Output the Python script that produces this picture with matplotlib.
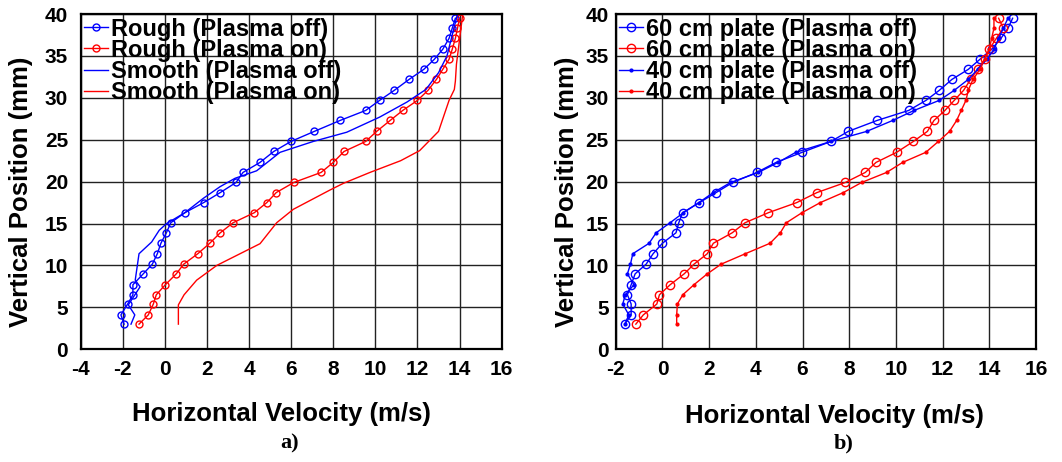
import numpy as np
import matplotlib
matplotlib.use("Agg")
import matplotlib.pyplot as plt

# ---- panel a) data (vertical position in mm, velocity in m/s)
rough_off_y = [3.0, 4.1, 5.4, 6.5, 7.7, 9.0, 10.15, 11.4, 12.65, 13.9, 15.1, 16.3, 17.5, 18.7, 19.9, 21.1,
               22.3, 23.6, 24.8, 26.0, 27.3, 28.5, 29.7, 30.9, 32.2, 33.4, 34.6, 35.8, 37.1, 38.3, 39.5]
rough_off_v = [-1.94, -2.09, -1.77, -1.52, -1.52, -1.03, -0.6, -0.36, -0.19, 0.07, 0.28, 0.95, 1.84, 2.63, 3.38, 3.71,
               4.52, 5.17, 5.99, 7.1, 8.32, 9.54, 10.2, 10.9, 11.6, 12.3, 12.8, 13.2, 13.5, 13.65, 13.8]
rough_on_y = rough_off_y
rough_on_v = [-1.23, -0.79, -0.55, -0.41, 0.02, 0.54, 0.89, 1.56, 2.13, 2.63, 3.24, 4.25, 4.84, 5.29, 6.12, 7.42,
              8.0, 8.51, 9.54, 10.06, 10.7, 11.3, 12.0, 12.5, 12.9, 13.2, 13.5, 13.65, 13.8, 13.9, 14.0]
smooth_off_y = [3.0, 4.1, 5.3, 7.45, 8.25, 11.4, 12.8, 14.2, 15.0, 16.3, 18.0, 19.4, 20.4, 21.3, 23.5, 24.8,
                25.9, 27.7, 29.5, 31.0, 33.0, 35.0, 37.0, 39.0, 40.0]
smooth_off_v = [-1.61, -1.43, -1.74, -1.18, -1.41, -1.23, -0.63, -0.27, 0.08, 0.95, 1.82, 2.62, 3.33, 4.36, 5.47, 7.05,
                8.64, 10.2, 11.5, 12.4, 13.0, 13.4, 13.6, 13.8, 13.9]
smooth_on_y = [3.0, 5.3, 6.5, 8.25, 10.0, 12.6, 15.1, 16.7, 19.0, 19.8, 21.1, 22.5, 23.7, 26.0, 29.7, 31.0,
               32.0, 34.0, 36.0, 38.0, 40.0]
smooth_on_v = [0.64, 0.64, 0.91, 1.51, 2.46, 4.52, 5.31, 6.1, 7.84, 8.48, 9.74, 11.2, 12.1, 13.0, 13.5, 13.75,
               13.8, 13.85, 13.95, 14.05, 14.15]

# ---- panel b) data
plate_y = [3.0, 4.1, 5.4, 6.5, 7.7, 9.0, 10.15, 11.4, 12.65, 13.9, 15.1, 16.3, 17.5, 18.7, 19.9, 21.1,
           22.3, 23.5, 24.8, 26.0, 27.3, 28.5, 29.7, 30.9, 32.2, 33.4, 34.6, 35.8, 37.1, 38.3, 39.5]
p60_off_v = [-1.61, -1.34, -1.34, -1.5, -1.34, -1.17, -0.7, -0.4, 0.0, 0.58, 0.7, 0.87, 1.58, 2.3, 3.01, 4.04,
             4.87, 5.98, 7.22, 7.96, 9.19, 10.55, 11.29, 11.86, 12.4, 13.1, 13.6, 14.1, 14.5, 14.8, 15.0]
p60_on_v = [-1.14, -0.82, -0.24, -0.13, 0.33, 0.93, 1.35, 1.92, 2.18, 2.99, 3.54, 4.54, 5.75, 6.62, 7.83, 8.69,
            9.15, 10.03, 10.75, 11.35, 11.63, 12.1, 12.5, 12.9, 13.2, 13.5, 13.8, 14.0, 14.3, 14.6, 14.4]
p40_off_v = [-1.61, -1.44, -1.7, -1.59, -1.22, -1.5, -1.37, -1.27, -0.57, -0.27, 0.33, 0.9, 1.56, 2.18, 2.92, 4.11,
             4.96, 5.71, 7.22, 8.75, 9.86, 10.78, 11.86, 12.5, 13.1, 13.5, 13.9, 14.2, 14.4, 14.6, 14.8]
p40_on_v = [0.61, 0.61, 0.64, 0.87, 1.35, 1.92, 2.51, 3.55, 4.61, 5.05, 5.31, 5.98, 6.76, 7.75, 8.53, 9.6,
            10.29, 11.28, 11.82, 12.3, 12.6, 12.8, 13.0, 13.1, 13.3, 13.6, 13.8, 14.0, 14.1, 14.2, 14.2]

plt.rcParams['font.family'] = ['Liberation Sans', 'DejaVu Sans']
plt.rcParams['font.weight'] = 'bold'
plt.rcParams['axes.unicode_minus'] = False

fig = plt.figure(figsize=(10.62, 4.62), dpi=100)
ax1 = fig.add_axes([0.076, 0.244, 0.3964, 0.7256])
ax2 = fig.add_axes([0.5798, 0.244, 0.3957, 0.7256])


def style(ax, xmin, xmax, ypad):
    ax.set_xlim(xmin, xmax)
    ax.set_ylim(0, 40)
    ax.set_xticks(np.arange(xmin, xmax + 1, 2))
    ax.set_yticks(np.arange(0, 41, 5))
    ax.grid(True, color='#222222', linewidth=1.0)
    ax.set_axisbelow(True)
    ax.tick_params(axis='x', length=0, labelsize=15, pad=8)
    ax.tick_params(axis='y', length=0, labelsize=15, pad=ypad)
    for lab in ax.get_xticklabels() + ax.get_yticklabels():
        lab.set_fontweight('bold')
    for s in ax.spines.values():
        s.set_linewidth(1.6)
    ax.set_xlabel('Horizontal Velocity (m/s)', fontsize=18.5, fontweight='bold')
    ax.set_ylabel('Vertical Position (mm)', fontsize=18.5, fontweight='bold')


style(ax1, -4, 16, 9)
ax1.plot(rough_off_v, rough_off_y, '-o', color='#0000ff', lw=1.0, ms=5, mfc='none', mew=1.0,
         label='Rough (Plasma off)')
ax1.plot(rough_on_v, rough_on_y, '-o', color='#ff0000', lw=1.0, ms=5, mfc='none', mew=1.0,
         label='Rough (Plasma on)')
ax1.plot(smooth_off_v, smooth_off_y, '-', color='#0000ff', lw=1.0, label='Smooth (Plasma off)')
ax1.plot(smooth_on_v, smooth_on_y, '-', color='#ff0000', lw=1.0, label='Smooth (Plasma on)')
ax1.xaxis.set_label_coords(0.477, -0.157)
ax1.yaxis.set_label_coords(-0.113, 0.47)

style(ax2, -2, 16, 5)
ax2.plot(p60_off_v, plate_y, '-o', color='#0000ff', lw=1.0, ms=6, mfc='none', mew=1.0,
         label='60 cm plate (Plasma off)')
ax2.plot(p60_on_v, plate_y, '-o', color='#ff0000', lw=1.0, ms=6, mfc='none', mew=1.0,
         label='60 cm plate (Plasma on)')
ax2.plot(p40_off_v, plate_y, '-', marker='.', color='#0000ff', lw=1.0, ms=4,
         label='40 cm plate (Plasma off)')
ax2.plot(p40_on_v, plate_y, '-', marker='.', color='#ff0000', lw=1.0, ms=4,
         label='40 cm plate (Plasma on)')
ax2.xaxis.set_label_coords(0.52, -0.162)
ax2.yaxis.set_label_coords(-0.087, 0.47)

for ax in (ax1, ax2):
    ax.legend(loc='upper left', bbox_to_anchor=(0.0, 1.0), frameon=False,
              prop={'weight': 'bold', 'size': 17}, handlelength=1.0, handletextpad=0.15,
              labelspacing=-0.08, borderaxespad=0.1, borderpad=0.05)

fig.text(0.273, 0.03, 'a)', fontsize=16, fontweight='bold', family='Liberation Serif', ha='center')
fig.text(0.794, 0.03, 'b)', fontsize=16, fontweight='bold', family='Liberation Serif', ha='center')

fig.savefig('out.png', dpi=100)
